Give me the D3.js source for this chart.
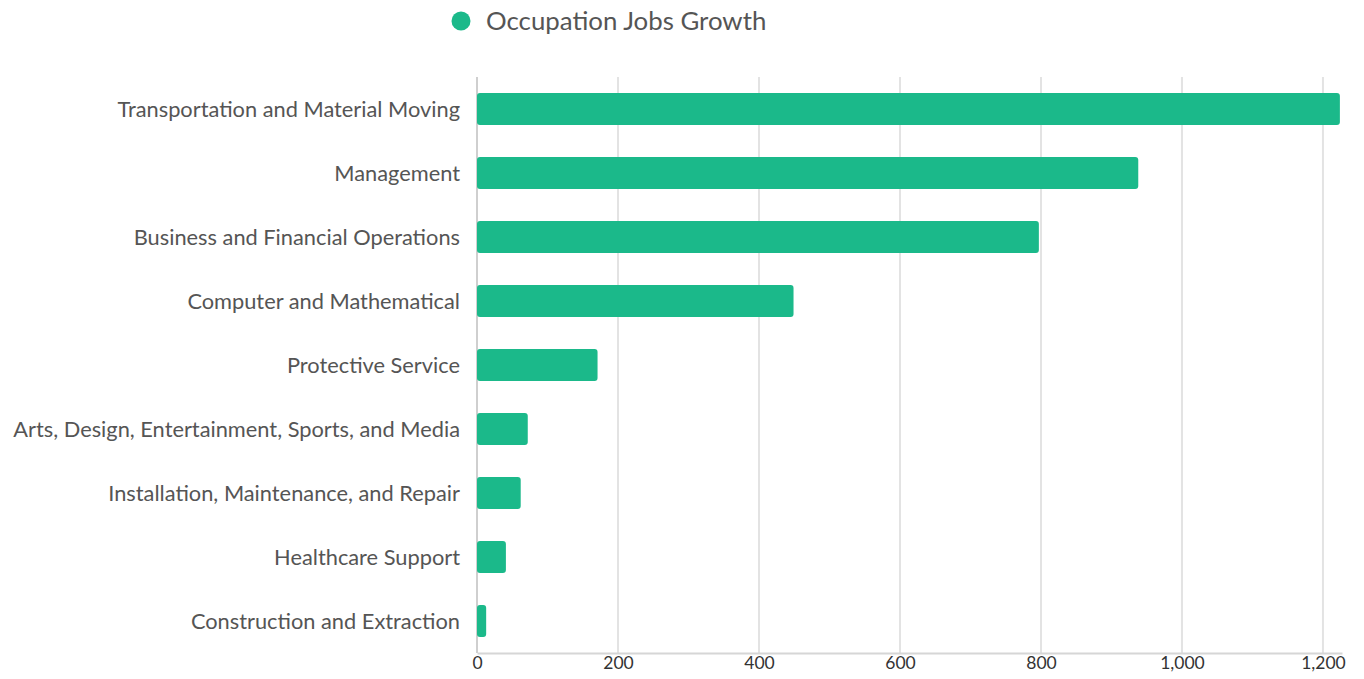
<!DOCTYPE html>
<html>
<head>
<meta charset="utf-8">
<script src="https://cdn.jsdelivr.net/npm/d3@7"></script>
<style>
  html, body { margin: 0; padding: 0; background: #fff; }
  svg { display: block; font-family: Lato, "Open Sans", sans-serif; }
</style>
</head>
<body>
<svg id="chart" width="1364" height="679"></svg>
<script>
// Occupation categories and their job growth
const categories = [
  "Transportation and Material Moving",
  "Management",
  "Business and Financial Operations",
  "Computer and Mathematical",
  "Protective Service",
  "Arts, Design, Entertainment, Sports, and Media",
  "Installation, Maintenance, and Repair",
  "Healthcare Support",
  "Construction and Extraction"
];
const jobsGrowth = [1224, 938, 797, 449, 171, 72, 62, 41, 13];
const tickValues = [0, 200, 400, 600, 800, 1000, 1200];
const seriesName = "Occupation Jobs Growth";
const barColor = "#1bb98a";

const svg = d3.select("#chart");
const margin = { top: 77, right: 22, bottom: 26, left: 477 };
const W = 1364, H = 679;

const x = d3.scaleLinear()
  .domain([0, 1227])
  .range([margin.left, W - margin.right]);

const y = d3.scaleBand()
  .domain(categories)
  .range([margin.top, H - margin.bottom])
  .paddingInner(0.5)
  .paddingOuter(0.25);

// vertical gridlines
svg.append("g")
  .selectAll("line")
  .data(tickValues)
  .join("line")
  .attr("x1", d => x(d)).attr("x2", d => x(d))
  .attr("y1", margin.top).attr("y2", H - margin.bottom)
  .attr("stroke", d => d === 0 ? "#cfcfcf" : "#e3e3e3")
  .attr("stroke-width", 2);

// bottom axis
const xAxis = svg.append("g")
  .attr("transform", `translate(0,${H - margin.bottom})`)
  .call(d3.axisBottom(x).tickValues(tickValues).tickFormat(d3.format(",")).tickSize(0).tickPadding(4));
xAxis.select(".domain").attr("stroke", "#d6d6d6").attr("stroke-width", 2);
xAxis.selectAll("text")
  .attr("fill", "#333")
  .style("font-size", "17.5px")
  .style("font-family", "Lato, sans-serif");

// bars
svg.append("g")
  .selectAll("rect")
  .data(categories.map((c, i) => ({ c, v: jobsGrowth[i] })))
  .join("rect")
  .attr("x", x(0))
  .attr("y", d => y(d.c))
  .attr("width", d => x(d.v) - x(0))
  .attr("height", y.bandwidth())
  .attr("rx", 3).attr("ry", 3)
  .attr("fill", barColor);

// category labels
svg.append("g")
  .selectAll("text")
  .data(categories)
  .join("text")
  .attr("x", margin.left - 17)
  .attr("y", d => y(d) + y.bandwidth() / 2)
  .attr("dy", "0.35em")
  .attr("text-anchor", "end")
  .attr("fill", "#555")
  .style("font-size", "21.8px")
  .text(d => d);

// legend
const legend = svg.append("g");
legend.append("circle")
  .attr("cx", 461).attr("cy", 21).attr("r", 9.5)
  .attr("fill", barColor);
legend.append("text")
  .attr("x", 486).attr("y", 21)
  .attr("dy", "0.35em")
  .attr("fill", "#555")
  .style("font-size", "25.8px")
  .text(seriesName);
</script>
</body>
</html>
